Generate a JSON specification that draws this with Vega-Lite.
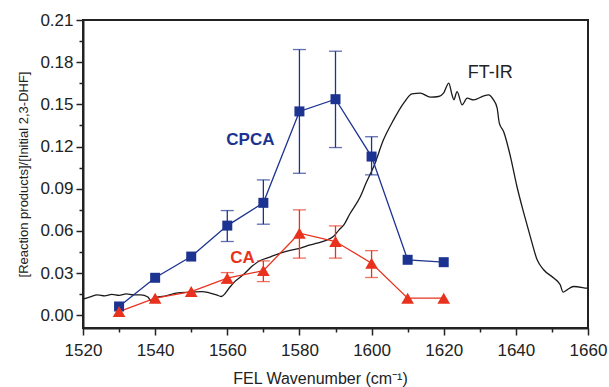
{
  "$schema": "https://vega.github.io/schema/vega-lite/v6.json",
  "width": 505,
  "height": 308,
  "autosize": {"type": "none"},
  "padding": {"left": 83, "top": 20, "right": 21, "bottom": 59},
  "background": "white",
  "config": {
    "view": {"stroke": "#222", "strokeWidth": 2},
    "font": "Liberation Sans",
    "axis": {
      "labelFont": "Liberation Sans",
      "labelFontSize": 17,
      "labelColor": "#222",
      "titleFont": "Liberation Sans",
      "titleFontWeight": "normal",
      "titleColor": "#222",
      "domainColor": "#222",
      "domainWidth": 2,
      "tickColor": "#222",
      "tickWidth": 1.5,
      "grid": false
    }
  },
  "datasets": {
    "ftir": [
      {"wn": 1520, "a": 0.0115}, {"wn": 1522, "a": 0.0132}, {"wn": 1524, "a": 0.0146},
      {"wn": 1526, "a": 0.0139}, {"wn": 1528, "a": 0.0149}, {"wn": 1530, "a": 0.0142},
      {"wn": 1532, "a": 0.0153}, {"wn": 1534, "a": 0.0146}, {"wn": 1536, "a": 0.0146},
      {"wn": 1538, "a": 0.013}, {"wn": 1539, "a": 0.0096}, {"wn": 1540.5, "a": 0.013},
      {"wn": 1542, "a": 0.0134}, {"wn": 1545, "a": 0.0153}, {"wn": 1547, "a": 0.0162},
      {"wn": 1550, "a": 0.0164}, {"wn": 1553, "a": 0.0169}, {"wn": 1555, "a": 0.016},
      {"wn": 1557, "a": 0.0146}, {"wn": 1558.3, "a": 0.0134}, {"wn": 1560.8, "a": 0.0203},
      {"wn": 1562, "a": 0.0238}, {"wn": 1564.4, "a": 0.0288}, {"wn": 1567, "a": 0.0352},
      {"wn": 1569, "a": 0.0388}, {"wn": 1572, "a": 0.0416}, {"wn": 1574.7, "a": 0.0442},
      {"wn": 1578, "a": 0.0466}, {"wn": 1580.3, "a": 0.0478}, {"wn": 1583, "a": 0.0501},
      {"wn": 1584.9, "a": 0.0513}, {"wn": 1587, "a": 0.053}, {"wn": 1589.4, "a": 0.056},
      {"wn": 1591, "a": 0.0608}, {"wn": 1592.3, "a": 0.0643}, {"wn": 1594, "a": 0.0722},
      {"wn": 1596.9, "a": 0.0845}, {"wn": 1598.5, "a": 0.0942}, {"wn": 1600.6, "a": 0.1058},
      {"wn": 1603.3, "a": 0.1248}, {"wn": 1606.1, "a": 0.139}, {"wn": 1608.9, "a": 0.1509},
      {"wn": 1611.2, "a": 0.1575}, {"wn": 1613.5, "a": 0.158}, {"wn": 1616.3, "a": 0.1551},
      {"wn": 1618.6, "a": 0.1556}, {"wn": 1620, "a": 0.1582}, {"wn": 1621.4, "a": 0.1651},
      {"wn": 1622.3, "a": 0.1568}, {"wn": 1622.8, "a": 0.1532}, {"wn": 1623.7, "a": 0.1591},
      {"wn": 1625.1, "a": 0.1497}, {"wn": 1626.5, "a": 0.1544}, {"wn": 1628.3, "a": 0.1532},
      {"wn": 1631.1, "a": 0.1561}, {"wn": 1632.4, "a": 0.1568}, {"wn": 1633.8, "a": 0.1532},
      {"wn": 1634.8, "a": 0.1475}, {"wn": 1635.4, "a": 0.1369}, {"wn": 1636.6, "a": 0.1307},
      {"wn": 1638.5, "a": 0.1129}, {"wn": 1640.3, "a": 0.0916}, {"wn": 1642.2, "a": 0.0727},
      {"wn": 1644, "a": 0.056}, {"wn": 1645.9, "a": 0.0395}, {"wn": 1647.7, "a": 0.0324},
      {"wn": 1650.5, "a": 0.0265}, {"wn": 1652.3, "a": 0.0217}, {"wn": 1653.1, "a": 0.0165},
      {"wn": 1654.2, "a": 0.0181}, {"wn": 1656, "a": 0.0205}, {"wn": 1659.7, "a": 0.0193},
      {"wn": 1660, "a": 0.0192}
    ],
    "products": [
      {"series": "CPCA", "wn": 1530, "ratio": 0.0063, "lo": null, "hi": null},
      {"series": "CPCA", "wn": 1540, "ratio": 0.0267, "lo": null, "hi": null},
      {"series": "CPCA", "wn": 1550, "ratio": 0.0418, "lo": null, "hi": null},
      {"series": "CPCA", "wn": 1560, "ratio": 0.0638, "lo": 0.0525, "hi": 0.0745},
      {"series": "CPCA", "wn": 1570, "ratio": 0.080, "lo": 0.0648, "hi": 0.0963},
      {"series": "CPCA", "wn": 1580, "ratio": 0.145, "lo": 0.101, "hi": 0.189},
      {"series": "CPCA", "wn": 1590, "ratio": 0.1537, "lo": 0.1193, "hi": 0.1878},
      {"series": "CPCA", "wn": 1600, "ratio": 0.1129, "lo": 0.0999, "hi": 0.127},
      {"series": "CPCA", "wn": 1610, "ratio": 0.0395, "lo": null, "hi": null},
      {"series": "CPCA", "wn": 1620, "ratio": 0.0378, "lo": null, "hi": null},
      {"series": "CA", "wn": 1530, "ratio": 0.0027, "lo": null, "hi": null},
      {"series": "CA", "wn": 1540, "ratio": 0.0122, "lo": null, "hi": null},
      {"series": "CA", "wn": 1550, "ratio": 0.0169, "lo": null, "hi": null},
      {"series": "CA", "wn": 1560, "ratio": 0.0264, "lo": 0.0229, "hi": 0.0304},
      {"series": "CA", "wn": 1570, "ratio": 0.0318, "lo": 0.024, "hi": 0.0387},
      {"series": "CA", "wn": 1580, "ratio": 0.0584, "lo": 0.0407, "hi": 0.075},
      {"series": "CA", "wn": 1590, "ratio": 0.0525, "lo": 0.0407, "hi": 0.0636},
      {"series": "CA", "wn": 1600, "ratio": 0.0371, "lo": 0.0269, "hi": 0.046},
      {"series": "CA", "wn": 1610, "ratio": 0.0122, "lo": null, "hi": null},
      {"series": "CA", "wn": 1620, "ratio": 0.0122, "lo": null, "hi": null}
    ],
    "labels": [
      {"series": "CPCA", "wn": 1566.4, "ratio": 0.1248, "text": "CPCA"},
      {"series": "CA", "wn": 1564.2, "ratio": 0.0409, "text": "CA"},
      {"series": "FT-IR", "wn": 1632.9, "ratio": 0.1724, "text": "FT-IR"}
    ]
  },
  "encoding": {
    "x": {
      "field": "wn",
      "type": "quantitative",
      "scale": {"domain": [1520, 1660], "nice": false, "zero": false},
      "axis": {
        "title": "FEL Wavenumber (cm⁻¹)",
        "titleFontSize": 16,
        "titlePadding": 12,
        "titleX": 237,
        "format": "d",
        "values": [1520, 1530, 1540, 1550, 1560, 1570, 1580, 1590, 1600, 1610, 1620, 1630, 1640, 1650, 1660],
        "labelExpr": "datum.value % 20 === 0 ? datum.label : ''",
        "tickSize": {"condition": {"test": "datum.value % 20 === 0", "value": 7}, "value": 4},
        "labelPadding": 7,
        "labelFlush": false
      }
    },
    "y": {
      "type": "quantitative",
      "scale": {"domain": [-0.009, 0.21], "nice": false, "zero": false},
      "axis": {
        "title": "[Reaction products]/[Initial 2,3-DHF]",
        "titleFontSize": 13,
        "titlePadding": 9,
        "values": [0, 0.015, 0.03, 0.045, 0.06, 0.075, 0.09, 0.105, 0.12, 0.135, 0.15, 0.165, 0.18, 0.195, 0.21],
        "labelExpr": "round(datum.value * 1000) % 30 === 0 ? format(datum.value, '.2f') : ''",
        "tickSize": {"condition": {"test": "round(datum.value * 1000) % 30 === 0", "value": 7}, "value": 4},
        "labelPadding": 3,
        "labelFlush": false
      }
    },
    "color": {
      "field": "series",
      "type": "nominal",
      "scale": {"domain": ["CPCA", "CA", "FT-IR"], "range": ["#1c3391", "#e8321e", "#222222"]},
      "legend": null
    }
  },
  "layer": [
    {
      "data": {"name": "ftir"},
      "mark": {"type": "line", "strokeWidth": 1.3, "interpolate": "monotone"},
      "encoding": {
        "y": {"field": "a", "type": "quantitative"},
        "color": {"value": "#1a1a1a"}
      }
    },
    {
      "data": {"name": "products"},
      "transform": [{"filter": "isValid(datum.hi)"}],
      "mark": {"type": "rule", "strokeWidth": 1.3},
      "encoding": {
        "y": {"field": "lo", "type": "quantitative"},
        "y2": {"field": "hi"}
      }
    },
    {
      "data": {"name": "products"},
      "transform": [{"filter": "isValid(datum.hi)"}],
      "mark": {"type": "tick", "orient": "horizontal", "size": 13, "thickness": 1.3},
      "encoding": {"y": {"field": "hi", "type": "quantitative"}}
    },
    {
      "data": {"name": "products"},
      "transform": [{"filter": "isValid(datum.lo)"}],
      "mark": {"type": "tick", "orient": "horizontal", "size": 13, "thickness": 1.3},
      "encoding": {"y": {"field": "lo", "type": "quantitative"}}
    },
    {
      "data": {"name": "products"},
      "mark": {"type": "line", "strokeWidth": 1.3},
      "encoding": {
        "y": {"field": "ratio", "type": "quantitative"},
        "detail": {"field": "series"}
      }
    },
    {
      "data": {"name": "products"},
      "transform": [{"filter": "datum.series === 'CPCA'"}],
      "mark": {"type": "point", "shape": "square", "size": 100, "filled": true, "opacity": 1},
      "encoding": {"y": {"field": "ratio", "type": "quantitative"}}
    },
    {
      "data": {"name": "products"},
      "transform": [{"filter": "datum.series === 'CA'"}],
      "mark": {"type": "point", "shape": "triangle-up", "size": 160, "filled": true, "opacity": 1},
      "encoding": {"y": {"field": "ratio", "type": "quantitative"}}
    },
    {
      "data": {"name": "labels"},
      "transform": [{"filter": "datum.series !== 'FT-IR'"}],
      "mark": {"type": "text", "font": "Liberation Sans", "fontSize": 17, "fontWeight": "bold"},
      "encoding": {
        "y": {"field": "ratio", "type": "quantitative"},
        "text": {"field": "text"}
      }
    },
    {
      "data": {"name": "labels"},
      "transform": [{"filter": "datum.series === 'FT-IR'"}],
      "mark": {"type": "text", "font": "Liberation Sans", "fontSize": 18, "fontWeight": "normal"},
      "encoding": {
        "y": {"field": "ratio", "type": "quantitative"},
        "text": {"field": "text"}
      }
    }
  ]
}
